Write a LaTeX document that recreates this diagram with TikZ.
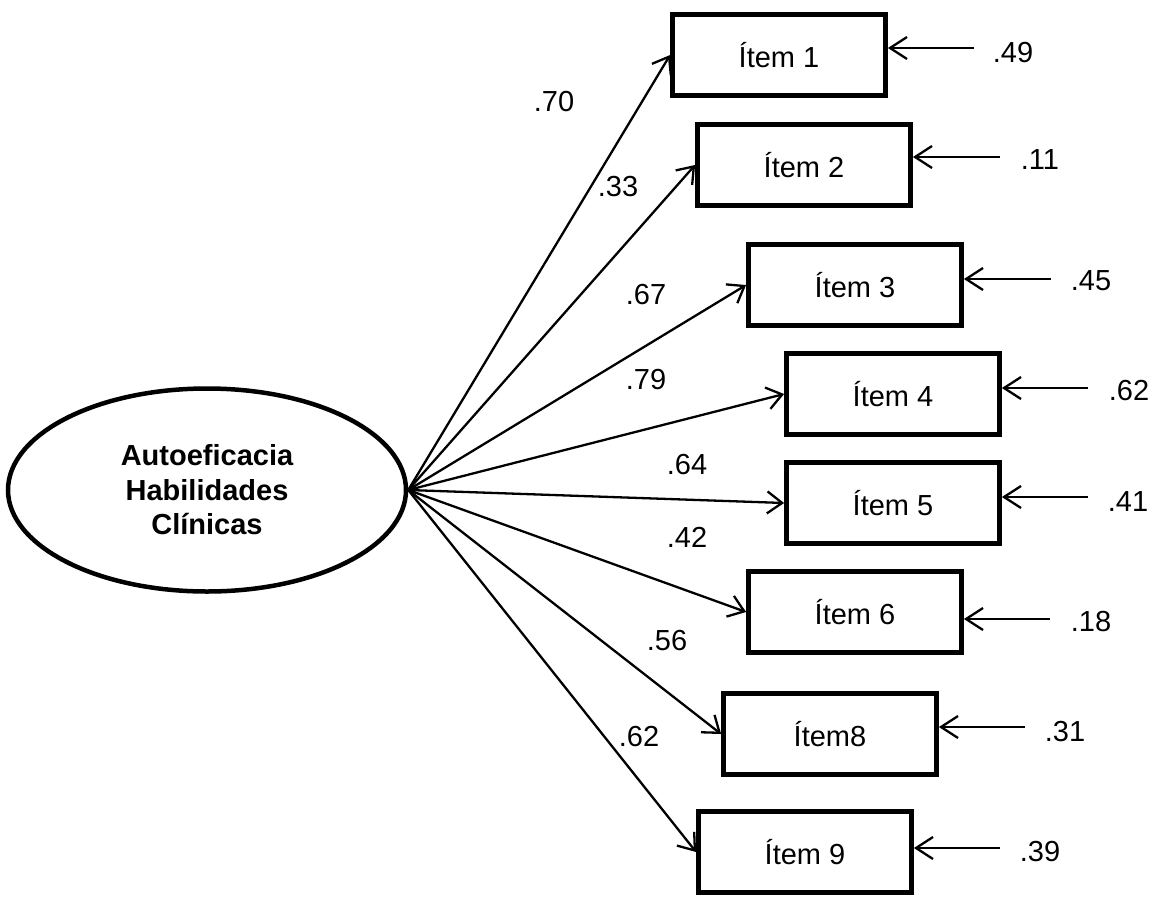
\documentclass[tikz,border=0pt]{standalone}
\usepackage{fontspec}
\setmainfont{Liberation Sans}
\usetikzlibrary{arrows.meta,shapes.geometric}

\begin{document}
\begin{tikzpicture}[x=1pt,y=-1pt,
  every node/.style={font=\fontsize{29}{34.5}\selectfont},
  latent/.style={draw,ellipse,line width=4.5pt,minimum width=398pt,minimum height=203pt,
    inner sep=0pt,align=center,font=\fontsize{29}{34.5}\selectfont\bfseries},
  item/.style={draw,rectangle,line width=4.8pt,minimum width=213pt,minimum height=81pt,inner sep=0pt},
  load/.style={line width=2.3pt,-{Straight Barb[length=15pt,width=22pt,line width=2.3pt]}},
  err/.style={line width=2.3pt,-{Straight Barb[length=17pt,width=22pt,line width=2.3pt]}},
  coef/.style={inner sep=0pt}
]
\useasboundingbox (0,0) rectangle (1158,897);

% latent factor
\node[latent] (f) at (207,490) {Autoeficacia\\Habilidades\\Clínicas};

% observed items
\node[item] (i1) at (779,55)  {Ítem 1};
\node[item] (i2) at (804,165) {Ítem 2};
\node[item] (i3) at (855,285) {Ítem 3};
\node[item] (i4) at (893,394) {Ítem 4};
\node[item] (i5) at (893,503) {Ítem 5};
\node[item] (i6) at (855,612) {Ítem 6};
\node[item] (i8) at (830,734) {Ítem8};
\node[item] (i9) at (805,852) {Ítem 9};

% factor loadings
\foreach \i in {1,2,3,4,5,6,8,9}
  \draw[load] (f.east) -- (i\i.west);

\node[coef] (l1) at (554,102) {.70};
\node[coef] (l2) at (618,187) {.33};
\node[coef] (l3) at (646,295) {.67};
\node[coef] (l4) at (646,380) {.79};
\node[coef] (l5) at (687,465) {.64};
\node[coef] (l6) at (687,537) {.42};
\node[coef] (l8) at (667,641) {.56};
\node[coef] (l9) at (639,737) {.62};

% error terms
\coordinate (e1) at (974,48);
\coordinate (e2) at (1000,157);
\coordinate (e3) at (1051,279);
\coordinate (e4) at (1088,388);
\coordinate (e5) at (1088,497);
\coordinate (e6) at (1050,619);
\coordinate (e8) at (1025,727);
\coordinate (e9) at (1000,848);
\foreach \i in {1,2,3,4,5,6,8,9}
  \draw[err] (e\i) -- (e\i -| i\i.east);

\node[coef] (r1) at (1013,53)  {.49};
\node[coef] (r2) at (1040,160) {.11};
\node[coef] (r3) at (1091,281) {.45};
\node[coef] (r4) at (1129,391) {.62};
\node[coef] (r5) at (1128,502) {.41};
\node[coef] (r6) at (1091,622) {.18};
\node[coef] (r8) at (1065,732) {.31};
\node[coef] (r9) at (1040,852) {.39};
\end{tikzpicture}
\end{document}
